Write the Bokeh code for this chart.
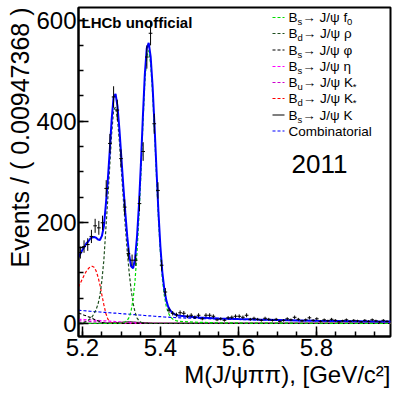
import numpy as np
from bokeh.plotting import figure
from bokeh.models import Range1d, FixedTicker, Label, Title
from bokeh.embed import file_html
from bokeh.resources import INLINE

# ---------------- data ----------------
BIN_LO = 5.19
BIN_W = 0.00947368
COUNTS = [140, 152, 156, 172, 193, 189, 199, 267, 356, 448,
          422, 326, 230, 138, 125, 125, 237, 340, 527, 574,
          395, 263, 115, 62, 26, 20, 17, 21, 20, 14,
          16, 12, 16, 9, 16, 16, 14, 7, 9, 6,
          11, 12, 14, 14, 12, 16, 8, 10, 8, 6,
          10, 8, 6, 8, 4, 6, 9, 7, 12, 8,
          5, 7, 11, 6, 9, 4, 7, 5, 8, 6,
          3, 5, 7, 4, 6, 5, 3, 6, 4, 7,
          5, 3, 6, 4]

XF = [5.190, 5.195, 5.200, 5.205, 5.210, 5.215, 5.220, 5.225, 5.230, 5.235,
      5.240, 5.245, 5.250, 5.255, 5.260, 5.265, 5.270, 5.275, 5.280, 5.285,
      5.290, 5.295, 5.300, 5.305, 5.310, 5.315, 5.320, 5.325, 5.330, 5.335,
      5.340, 5.345, 5.350, 5.355, 5.360, 5.365, 5.370, 5.375, 5.380, 5.385,
      5.390, 5.395, 5.400, 5.405, 5.410, 5.415, 5.420, 5.425, 5.430, 5.435,
      5.440, 5.445, 5.450, 5.475, 5.500, 5.550, 5.600, 5.650, 5.700, 5.750,
      5.800, 5.850, 5.900, 5.950, 5.990]

BD_KSTAR = [72, 80, 88, 96, 103, 108, 112, 113, 111, 104,
            92, 76, 56, 37, 20, 9, 3, 1, 0.3] + [0] * 46
COMB = [26.0, 25.6, 25.3, 25.0, 24.6, 24.3, 24.0, 23.7, 23.4, 23.1,
        22.8, 22.5, 22.2, 21.9, 21.6, 21.3, 21.0, 20.7, 20.4, 20.1,
        19.8, 19.5, 19.2, 18.9, 18.6, 18.3, 18.0, 17.7, 17.4, 17.1,
        16.8, 16.5, 16.2, 15.9, 15.6, 15.3, 15.0, 14.7, 14.4, 14.1,
        13.8, 13.5, 13.2, 12.9, 12.6, 12.4, 12.2, 12.0, 11.8, 11.6,
        11.4, 11.2, 11.0, 10.3, 9.6, 8.6, 7.7, 6.9, 6.2, 5.6,
        5.0, 4.5, 4.1, 3.7, 3.4]
BS_ETA = [8, 8, 8, 7.5, 7.5, 7, 7, 6.5, 6.5, 6,
          6, 5.5, 5.5, 5, 5, 4.5, 4.5, 4, 4, 3.5,
          3.5, 3, 3, 2.5, 2.5, 2, 2, 1.5, 1.5, 1,
          1, 0.5, 0.5] + [0] * 32
BU_KSTAR = [5, 5, 4.5, 4.5, 4, 4, 3.5, 3.5, 3, 3,
            2.5, 2.5, 2, 2, 1.5, 1.5, 1, 1, 0.5, 0.5] + [0] * 45
BS_PHI = [20, 19, 18, 16, 15, 13, 12, 10, 8, 6.5,
          5, 3.5, 2, 1, 0.5] + [0] * 50
BD_RHO = [0, 0.5, 1, 2, 4, 6, 9, 13, 19, 27,
          38, 55, 85, 125, 185, 245, 310, 375, 422, 428,
          405, 358, 302, 246, 192, 143, 100, 66, 40, 22,
          11, 5, 2, 1, 0.3] + [0] * 30
BS_F0 = [0] * 21 + [0.3, 0.6, 1.5, 3, 6, 12, 25, 48, 85,
                    140, 210, 295, 390, 475, 528, 540, 513, 455, 376,
                    290, 207, 139, 88, 55, 34, 21, 14, 9.5, 7,
                    5.5, 4.5, 4, 2.8, 2, 1.2, 0.8, 0.5, 0.35, 0.25,
                    0.2, 0.15, 0.1, 0.1, 0.1]
BS_K = [0] * 14 + [0.5, 0.5, 1, 1, 1, 1.5, 1.5, 2, 2, 2.5,
                   2.5, 3, 3, 3, 2.5, 2.5, 2, 2, 1.5, 1.5,
                   1, 1, 0.5, 0.5] + [0] * 27
TOTAL = [131, 138, 145, 151, 158, 162, 167.5, 170, 171, 169.5,
         166, 165, 173, 192, 234, 282, 340, 403, 448, 454,
         430, 383, 327, 271, 219, 172, 135, 113, 109, 128,
         171, 234, 315, 408, 492, 544, 555, 528, 469, 390,
         304, 220, 152, 101, 68, 46, 33, 26, 21.3, 18.6,
         16.9, 15.7, 15.0, 13.1, 11.6, 9.8, 8.5, 7.4, 6.6, 5.9,
         5.2, 4.7, 4.2, 3.8, 3.5]

X_TICKS = [5.2, 5.4, 5.6, 5.8]
X_MINOR = [5.20, 5.25, 5.30, 5.35, 5.40, 5.45, 5.50, 5.55, 5.60, 5.65,
           5.70, 5.75, 5.80, 5.85, 5.90, 5.95]
Y_TICKS = [0, 200, 400, 600]
Y_MINOR = [0, 50, 100, 150, 200, 250, 300, 350, 400, 450, 500, 550, 600]

# ---------------- layout ----------------
W, H = 393, 394
ML, MR, MT, MB = 78, 3, 7, 58
X0, X1 = 5.19, 5.99
Y0, Y1 = -26.0, 625.0
FW, FH = W - ML - MR, H - MT - MB
FONT = "Liberation Sans"


def dx(px):
    return X0 + (px - ML) / FW * (X1 - X0)


def dy(py):
    return Y0 + (MT + FH - py) / FH * (Y1 - Y0)


p = figure(width=W, height=H, x_range=Range1d(X0, X1), y_range=Range1d(Y0, Y1),
           output_backend="svg", toolbar_location=None,
           min_border_left=ML, min_border_right=MR,
           min_border_top=MT, min_border_bottom=MB)
p.grid.visible = False
p.background_fill_color = "white"
p.border_fill_color = "white"
p.outline_line_color = "black"
p.outline_line_width = 2

for ax in (p.xaxis[0], p.yaxis[0]):
    ax.axis_line_width = 2
    ax.major_tick_in = 10
    ax.major_tick_out = 0
    ax.minor_tick_in = 5
    ax.minor_tick_out = 0
    ax.major_tick_line_width = 1.5
    ax.minor_tick_line_width = 1.5
    ax.major_label_text_font = FONT
    ax.major_label_text_font_size = "24px"
    ax.major_label_text_color = "black"
p.xaxis.ticker = FixedTicker(ticks=X_TICKS, minor_ticks=X_MINOR)
p.yaxis.ticker = FixedTicker(ticks=Y_TICKS, minor_ticks=Y_MINOR)
p.xaxis.major_label_standoff = 2
p.yaxis.major_label_standoff = 2

# axis titles (ROOT style: aligned to the end of the axis)
p.add_layout(Title(text="M(J/ψππ), [GeV/c²]", align="right", standoff=0, offset=0,
                   text_font=FONT, text_font_size="24px", text_font_style="normal",
                   text_color="black"), "below")
p.add_layout(Title(text="Events / ( 0.00947368 )", align="right", standoff=0, offset=0,
                   text_font=FONT, text_font_size="25px", text_font_style="normal",
                   text_color="black"), "left")

# ---------------- components ----------------
DASH = "3 2"
p.line(XF, COMB, line_color="#0000ff", line_dash=DASH, line_width=1.2)
p.line(XF, BS_K, line_color="black", line_width=1)
p.line(XF, BD_KSTAR, line_color="#ff0000", line_dash=DASH, line_width=1.2)
p.line(XF, BU_KSTAR, line_color="#cc00cc", line_dash=DASH, line_width=1.2)
p.line(XF, BS_ETA, line_color="#ff00ff", line_dash=DASH, line_width=1.2)
p.line(XF, BS_PHI, line_color="black", line_dash=DASH, line_width=1.2)
p.line(XF, BD_RHO, line_color="#1f4f1f", line_dash=DASH, line_width=1.2)
p.line(XF, BS_F0, line_color="#00dd00", line_dash=DASH, line_width=1.2)
p.line(XF, TOTAL, line_color="#0000ff", line_width=2)

# ---------------- data points ----------------
counts = np.array(COUNTS, dtype=float)
centers = BIN_LO + (np.arange(len(counts)) + 0.5) * BIN_W
err = np.sqrt(counts)
p.segment(x0=centers - BIN_W / 2, x1=centers + BIN_W / 2, y0=counts, y1=counts,
          line_color="black", line_width=1)
p.segment(x0=centers, x1=centers, y0=counts - err, y1=counts + err,
          line_color="black", line_width=1)

# ---------------- texts ----------------
p.add_layout(Label(x=dx(81), y=dy(21.5), text="LHCb unofficial",
                   text_align="left", text_baseline="alphabetic",
                   text_font=FONT, text_font_style="bold", text_font_size="15px",
                   text_color="black"))
p.add_layout(Label(x=dx(291), y=dy(163), text="2011",
                   text_align="left", text_baseline="middle",
                   text_font=FONT, text_font_size="26px", text_color="black"))

# ---------------- legend ----------------
CW = {'B': 0.667, 's': 0.5, 'd': 0.556, 'u': 0.556, '0': 0.556, 'f': 0.278,
      'K': 0.667, '*': 0.389, ' ': 0.278, '→': 1.0, 'J': 0.5, '/': 0.278,
      'ψ': 0.70, 'ρ': 0.58, 'φ': 0.72, 'η': 0.56}
LEG = [
    ([("B", 0), ("s", 1), ("→ J/ψ f", 0), ("0", 1)], "#00dd00", DASH),
    ([("B", 0), ("d", 1), ("→ J/ψ ρ", 0)], "#1f4f1f", DASH),
    ([("B", 0), ("s", 1), (" → J/ψ φ", 0)], "black", DASH),
    ([("B", 0), ("s", 1), (" → J/ψ η", 0)], "#ff00ff", DASH),
    ([("B", 0), ("u", 1), ("→ J/ψ K", 0), ("*", 1)], "#cc00cc", DASH),
    ([("B", 0), ("d", 1), ("→ J/ψ K", 0), ("*", 1)], "#ff0000", DASH),
    ([("B", 0), ("s", 1), ("→ J/ψ K", 0)], "black", "solid"),
    ([("Combinatorial", 0)], "#0000ff", DASH),
]
ROW_Y = [17, 33, 49.5, 66, 82, 98, 114.5, 130.5]
FS_N, FS_S = 13.5, 9.5
TX0 = 288
for (runs, col, dash), ry in zip(LEG, ROW_Y):
    p.line([dx(272), dx(284)], [dy(ry), dy(ry)], line_color=col, line_dash=dash,
           line_width=1.2)
    cx = TX0
    for txt, sub in runs:
        fs = FS_S if sub else FS_N
        yy = ry + (4 if sub else 0)
        p.add_layout(Label(x=dx(cx), y=dy(yy), text=txt, text_align="left",
                           text_baseline="middle", text_font=FONT,
                           text_font_size=f"{fs}px", text_color="black"))
        cx += sum(CW.get(ch, 0.6) for ch in txt) * fs

open("out.html", "w").write(file_html(p, INLINE))
